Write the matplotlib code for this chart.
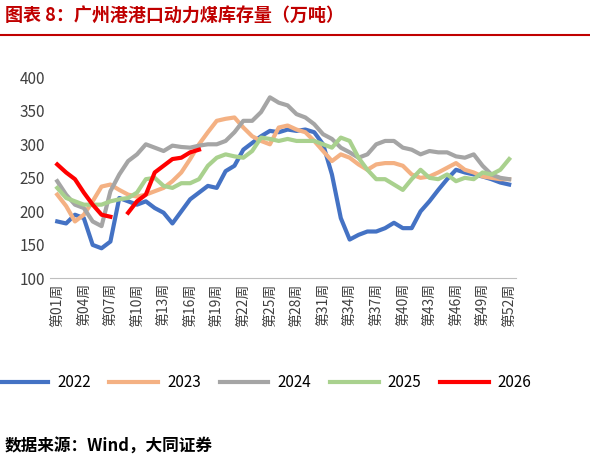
import matplotlib
matplotlib.use("Agg")
import matplotlib.pyplot as plt
import numpy as np

plt.rcParams['font.family'] = ['Noto Sans CJK SC', 'DejaVu Sans']

weeks = list(range(1, 53))
tick_labels = [f"第{w:02d}周" for w in range(1, 53, 3)]
s2022 = [185,182,195,190,150,145,155,220,215,210,215,205,198,182,200,218,228,238,235,260,268,292,302,312,320,318,322,320,322,318,300,255,190,158,165,170,170,175,183,175,175,200,215,232,248,262,258,255,252,248,243,240]
s2023 = [225,208,185,195,215,237,240,232,225,222,225,230,235,245,258,278,300,318,335,338,340,325,312,305,300,325,328,322,318,305,290,275,285,280,270,262,270,272,272,268,255,250,252,258,265,272,262,258,252,250,248,248]
s2024 = [245,225,210,205,185,178,230,255,275,285,300,295,290,298,296,295,298,300,300,305,318,335,335,348,370,362,358,345,340,330,315,308,295,288,280,285,300,305,305,295,292,285,290,288,288,282,280,285,268,255,250,248]
s2025 = [235,220,215,210,210,210,215,218,220,228,248,250,238,235,242,242,248,268,280,285,282,280,290,310,308,305,308,305,305,305,300,295,310,305,280,262,248,248,240,232,248,262,250,248,255,245,250,248,258,255,262,278]
s2026 = [270,258,248,228,210,195,192,np.nan,198,215,225,258,268,278,280,288,292]

fig = plt.figure(figsize=(5.9, 4.68), dpi=100)
ax = fig.add_axes([0.085, 0.405, 0.79, 0.43])
series = [("2022", s2022, "#4472C4"), ("2023", s2023, "#F4B183"), ("2024", s2024, "#A5A5A5"),
          ("2025", s2025, "#A9D18E"), ("2026", s2026, "#FF0000")]
for name, vals, c in series:
    ax.plot(weeks[:len(vals)], vals, color=c, lw=3, label=name)
ax.set_ylim(100, 400)
ax.set_yticks(range(100, 401, 50))
ax.set_xlim(0.2, 52.8)
ax.set_xticks(list(range(1, 53, 3)))
ax.set_xticklabels(tick_labels, rotation=90, fontsize=10, color='#404040')
ax.tick_params(axis='y', labelsize=11, colors='#404040', length=0)
ax.tick_params(axis='x', length=0)
for s in ['top', 'right', 'left']:
    ax.spines[s].set_visible(False)
ax.spines['bottom'].set_color('#BFBFBF')
fig.legend(loc='center', bbox_to_anchor=(0.45, 0.183), ncol=5, frameon=False, fontsize=11,
           handlelength=3.2, columnspacing=1.2, handletextpad=0.6)
fig.text(0.008, 0.965, "图表 8：广州港港口动力煤库存量（万吨）", fontsize=13, color='#C00000', va='center', weight='bold')
fig.add_artist(plt.Line2D([0, 1], [0.925, 0.925], color='#C00000', lw=1.5))
fig.text(0.008, 0.045, "数据来源：Wind，大同证券", fontsize=12, color='black', va='center', weight='bold')
fig.savefig("out.png", dpi=100)
